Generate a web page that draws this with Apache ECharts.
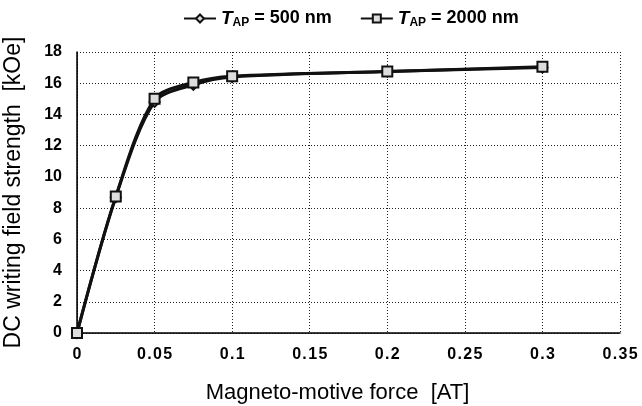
<!DOCTYPE html>
<html>
<head>
<meta charset="utf-8">
<script src="https://cdn.jsdelivr.net/npm/echarts@6/dist/echarts.min.js"></script>
<style>
  html, body { margin: 0; padding: 0; background: #fff; }
  #chart { width: 642px; height: 406px; }
</style>
</head>
<body>
<div id="chart"></div>
<script>
  // magneto-motive force [AT]
  var mmf = [0, 0.025, 0.05, 0.075, 0.1, 0.2, 0.3];
  // DC writing field strength [kOe]
  var field500 = [0, 8.7, 14.8, 15.9, 16.4, 16.75, 17.0];
  var field2000 = [0, 8.75, 15.0, 16.05, 16.45, 16.75, 17.05];
  var seriesNames = ['500', '2000'];

  function pairs(xs, ys) {
    return xs.map(function (x, i) { return [x, ys[i]]; });
  }

  var fontFam = '"Liberation Sans", Arial, sans-serif';
  var dotted = { color: '#222', type: [1, 2], width: 1 };

  var chart = echarts.init(document.getElementById('chart'));
  var option = {
    backgroundColor: '#fff',
    animation: false,
    grid: { left: 77, right: 22, top: 52, bottom: 73, outerBoundsMode: 'none' },
    legend: {
      top: 4,
      left: 178,
      itemGap: 28,
      itemWidth: 32,
      itemHeight: 10,
      data: seriesNames,
      formatter: function (n) { return '{i|T}{s|AP}{t| = ' + n + ' nm}'; },
      textStyle: {
        color: '#000',
        fontFamily: fontFam,
        rich: {
          i: { fontSize: 19, fontStyle: 'italic', fontWeight: 'bold', fontFamily: fontFam, color: '#000' },
          s: { fontSize: 12, fontWeight: 'bold', fontFamily: fontFam, color: '#000', padding: [9, 0, 0, 0] },
          t: { fontSize: 18, fontWeight: 'bold', fontFamily: fontFam, color: '#000' }
        }
      }
    },
    xAxis: [{
      type: 'value',
      min: 0,
      max: 0.35,
      interval: 0.05,
      name: 'Magneto-motive force  [AT]',
      nameLocation: 'middle',
      nameGap: 49,
      nameTextStyle: { fontSize: 22, color: '#000', fontFamily: fontFam, padding: [0, 22, 0, 0] },
      axisLine: { lineStyle: dotted },
      axisTick: { show: false },
      axisLabel: {
        fontSize: 16, fontWeight: 'bold', color: '#000', fontFamily: fontFam, margin: 14,
        formatter: function (v) {
          return (+v.toFixed(2) + '').split('').join('\u200A');
        }
      },
      splitLine: { show: true, lineStyle: dotted }
    }, {
      type: 'value',
      position: 'top',
      min: 0,
      max: 0.35,
      interval: 0.05,
      axisLine: { show: true, lineStyle: { color: '#000', width: 1.5 } },
      axisTick: { show: false },
      axisLabel: { show: false },
      splitLine: { show: false }
    }],
    yAxis: [{
      type: 'value',
      min: 0,
      max: 18,
      interval: 2,
      name: 'DC writing field strength  [kOe]',
      nameLocation: 'middle',
      nameGap: 52,
      nameTextStyle: { fontSize: 23, color: '#000', fontFamily: fontFam },
      axisLine: { show: true, lineStyle: dotted },
      axisTick: { show: false },
      axisLabel: { fontSize: 16, fontWeight: 'bold', color: '#000', fontFamily: fontFam, margin: 15 },
      splitLine: { show: true, lineStyle: dotted }
    }, {
      type: 'value',
      position: 'right',
      min: 0,
      max: 18,
      interval: 2,
      axisLine: { show: true, lineStyle: { color: '#000', width: 1.5 } },
      axisTick: { show: false },
      axisLabel: { show: false },
      splitLine: { show: false }
    }],
    series: [{
      name: seriesNames[0],
      type: 'line',
      smooth: 0.3,
      data: pairs(mmf, field500),
      symbol: 'diamond',
      symbolSize: 10,
      lineStyle: { color: '#111', width: 3 },
      itemStyle: { color: '#ddd', borderColor: '#111', borderWidth: 2 }
    }, {
      name: seriesNames[1],
      type: 'line',
      smooth: 0.3,
      data: pairs(mmf, field2000),
      symbol: 'rect',
      symbolSize: 10,
      lineStyle: { color: '#111', width: 3 },
      itemStyle: { color: '#ddd', borderColor: '#111', borderWidth: 2 }
    }]
  };
  chart.setOption(option);
</script>
</body>
</html>
